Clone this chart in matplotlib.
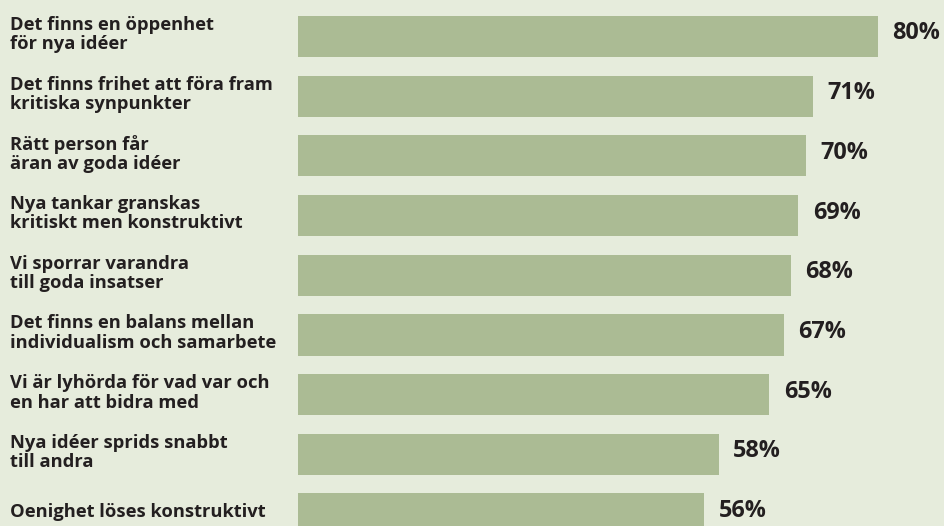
import matplotlib
matplotlib.use("Agg")
import matplotlib.pyplot as plt
from matplotlib.transforms import blended_transform_factory

labels = [
    "Det finns en öppenhet\nför nya idéer",
    "Det finns frihet att föra fram\nkritiska synpunkter",
    "Rätt person får\näran av goda idéer",
    "Nya tankar granskas\nkritiskt men konstruktivt",
    "Vi sporrar varandra\ntill goda insatser",
    "Det finns en balans mellan\nindividualism och samarbete",
    "Vi är lyhörda för vad var och\nen har att bidra med",
    "Nya idéer sprids snabbt\ntill andra",
    "Oenighet löses konstruktivt",
]
values = [80, 71, 70, 69, 68, 67, 65, 58, 56]

bg = "#e6ecdc"
bar_col = "#abbb94"
txt_col = "#231f20"

plt.rcParams["font.family"] = ["Open Sans", "DejaVu Sans"]

fig = plt.figure(figsize=(9.44, 5.26), dpi=100, facecolor=bg)
# bars start at ~298px, 7.25 px per percent
ax = fig.add_axes([298 / 944, 0, 1 - 298 / 944, 1])
ax.set_facecolor(bg)

y = list(range(len(values)))
ax.barh(y, values, height=0.69, color=bar_col, edgecolor="none")

ax.set_xlim(0, (944 - 298) / 7.25)
ax.set_ylim(8.2, -0.61)
ax.axis("off")

tr = blended_transform_factory(fig.transFigure, ax.transData)
for i, (lab, v) in enumerate(zip(labels, values)):
    ax.text(10 / 944, i - 0.03, lab, transform=tr, ha="left", va="center",
            fontsize=13.2, fontweight="bold", color=txt_col, linespacing=1.1)
    ax.text(v + 2.0, i - 0.05, f"{v}%", ha="left", va="center",
            fontsize=16.8, fontweight="bold", color=txt_col)

fig.savefig("out.png", dpi=100, facecolor=bg)
